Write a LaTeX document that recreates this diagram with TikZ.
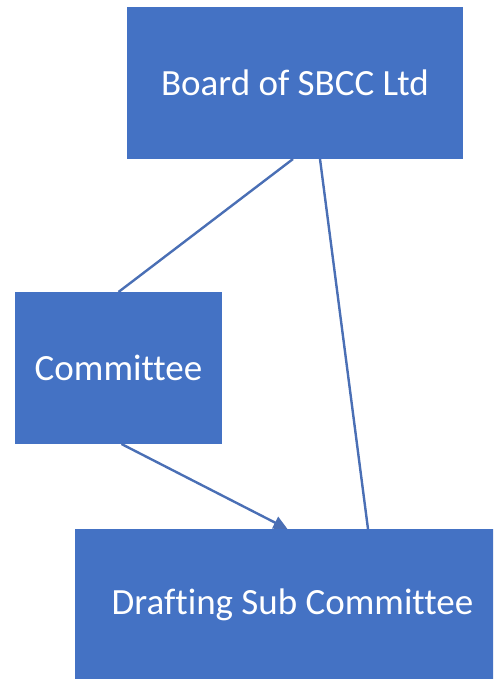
\documentclass[tikz,border=0pt]{standalone}
\usepackage{fontspec}
\setmainfont[Ligatures=NoCommon]{Carlito}
\usetikzlibrary{arrows.meta,calc}
\definecolor{boxblue}{HTML}{4472C4}
\definecolor{lineblue}{HTML}{4A6FB5}
\tikzset{
  orgbox/.style={fill=boxblue, text=white, inner sep=0pt, outer sep=0pt,
    font=\fontsize{37}{44}\selectfont},
  link/.style={draw=lineblue, line width=2.4pt},
  arrowlink/.style={link, -{Triangle[length=14pt,width=13pt]}}
}
\begin{document}
\begin{tikzpicture}[x=1pt,y=-1pt]
\useasboundingbox (0,0) rectangle (493,679);
\begin{scope}
\clip (0,0) rectangle (493,679);
\node[orgbox, minimum width=336pt, minimum height=152pt] (board) at (295,83) {Board of SBCC Ltd};
\node[orgbox, minimum width=207pt, minimum height=152pt] (committee) at (118.5,368) {Committee};
\node[orgbox, minimum width=435pt, minimum height=152pt, anchor=north] (drafting) at (292.5,529) {};
\node[text=white, font=\fontsize{37}{44}\selectfont] (draftlabel) at (292.5,605) {Drafting Sub Committee};
\end{scope}
\draw[link] ([xshift=-2pt]board.south) -- (committee.north);
\draw[link] ([xshift=25pt]board.south) -- ([xshift=75.5pt]drafting.north);
\draw[arrowlink] ([xshift=3pt]committee.south) -- ([xshift=-5pt]drafting.north);
\end{tikzpicture}
\end{document}
